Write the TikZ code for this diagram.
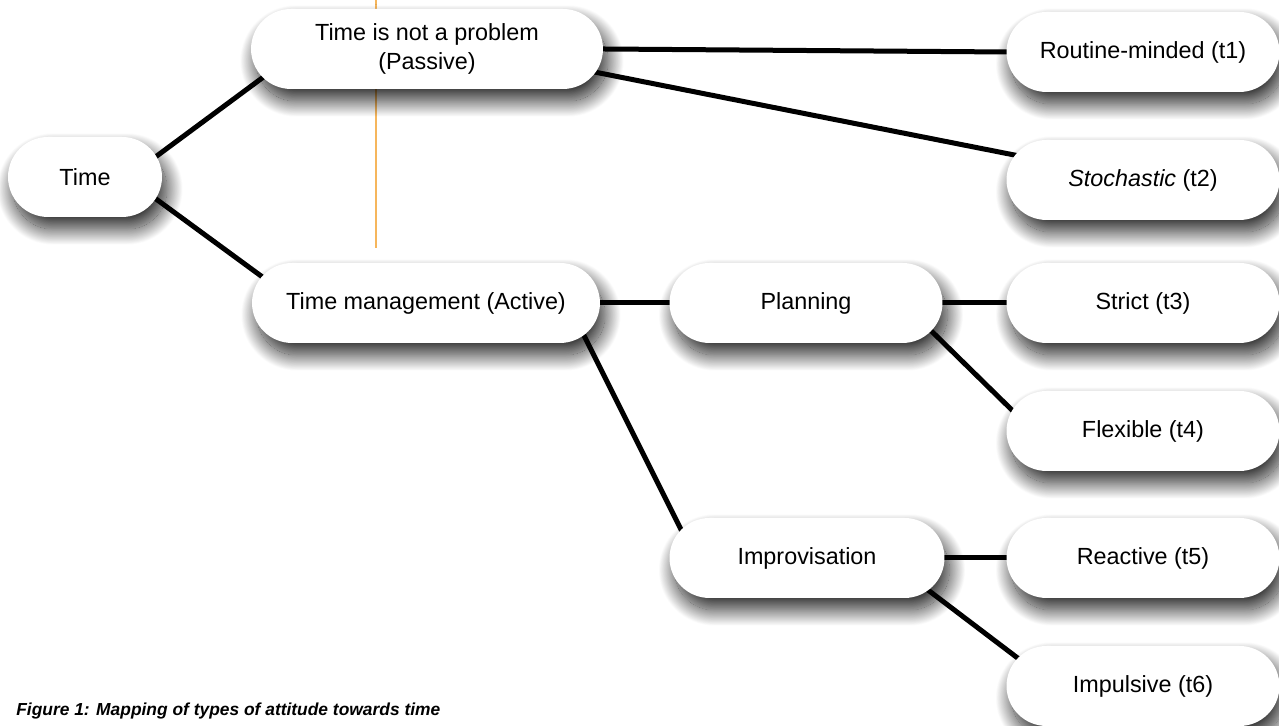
\documentclass[tikz,border=0pt]{standalone}
\usepackage{fontspec}
\setmainfont{Liberation Sans}
\usetikzlibrary{shadows.blur,backgrounds}
\definecolor{guideorange}{RGB}{246,182,92}
\tikzstyle{every node}=[font=\fontsize{13.3}{16.5}\selectfont]
\tikzstyle{pill}=[fill=white,rounded corners=0.8cm,minimum height=1.6cm,align=center,
  blur shadow={shadow xshift=0.1cm,shadow yshift=-0.24cm,shadow blur radius=0.32cm,
    shadow blur steps=40,shadow opacity=85}]
\tikzstyle{link}=[line width=0.1cm,shorten <=-0.4cm,shorten >=-0.4cm]

\begin{document}
\begin{tikzpicture}[x=0.02cm,y=0.02cm]
    \useasboundingbox (0,0) rectangle (1279,726);
    \node[pill,minimum width=3.08cm] (time) at (85,549) {Time};
    \node[pill,minimum width=7.04cm] (passive) at (427,677) {Time is not a problem\\(Passive)};
    \node[pill,minimum width=6.96cm] (active) at (426,423) {Time management (Active)};
    \node[pill,minimum width=5.46cm] (planning) at (806,423) {Planning};
    \node[pill,minimum width=5.5cm] (improv) at (807,168) {Improvisation};
    % the six types
    \node[pill,minimum width=5.46cm] (t1) at (1143,674) {Routine-minded (t1)};
    \node[pill,minimum width=5.46cm] (t2) at (1143,546) {\textit{Stochastic} (t2)};
    \node[pill,minimum width=5.46cm] (t3) at (1143,423) {Strict (t3)};
    \node[pill,minimum width=5.46cm] (t4) at (1143,295) {Flexible (t4)};
    \node[pill,minimum width=5.46cm] (t5) at (1143,168) {Reactive (t5)};
    \node[pill,minimum width=5.46cm] (t6) at (1143,40) {Impulsive (t6)};
    \begin{scope}[on background layer]
      \draw[guideorange,line width=0.03cm] (376,726)--(376,478);
      \draw[link] (time.18)--(passive.192);
      \draw[link] (time.-19)--(active.169);
      \draw[link] (passive.east)--(t1.west);
      \draw[link] (passive.-8)--(t2.169);
      \draw[link] (active.east)--(planning.west);
      \draw[link] (active.-14)--(improv.163);
      \draw[link] (planning.east)--(t3.west);
      \draw[link] (planning.-16)--(t4.169);
      \draw[link] (improv.east)--(t5.west);
      \draw[link] (improv.-17)--(t6.165);
    \end{scope}
    \node[anchor=base west,inner sep=0pt,font=\fontsize{9.9}{12}\selectfont\bfseries\itshape] (caption) at (16,10)
      {Figure 1: Mapping of types of attitude towards time};
\end{tikzpicture}
\end{document}
